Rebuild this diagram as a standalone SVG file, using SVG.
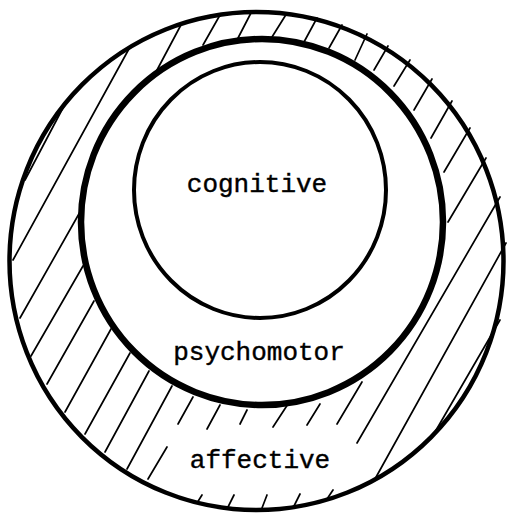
<svg xmlns="http://www.w3.org/2000/svg" width="510" height="515" viewBox="0 0 510 515">
<style>
.ring{fill:none;stroke:#000}
.hatch line{stroke:#000;stroke-width:1.7;stroke-linecap:round}
.lbl{font-family:"Liberation Mono","Courier New",monospace;font-size:26px;fill:#000;stroke:#000;stroke-width:0.4;text-anchor:middle}
</style>
<rect width="510" height="515" fill="#fff"/>
<g id="hatching" class="hatch">
<line x1="130" y1="47" x2="13" y2="260"/>
<line x1="182" y1="23" x2="157" y2="70"/>
<line x1="220" y1="15" x2="203" y2="45"/>
<line x1="252" y1="11" x2="238" y2="38"/>
<line x1="287" y1="13" x2="272" y2="37"/>
<line x1="317" y1="18" x2="304" y2="42"/>
<line x1="342" y1="25" x2="329" y2="48"/>
<line x1="367" y1="34" x2="355" y2="60"/>
<line x1="388" y1="46" x2="374" y2="70"/>
<line x1="410" y1="60" x2="394" y2="86"/>
<line x1="432" y1="79" x2="414" y2="110"/>
<line x1="452" y1="101" x2="431" y2="138"/>
<line x1="470" y1="128" x2="444" y2="172"/>
<line x1="486" y1="158" x2="448" y2="222"/>
<line x1="500" y1="197" x2="357" y2="443"/>
<line x1="506" y1="243" x2="375" y2="479"/>
<line x1="500" y1="320" x2="435" y2="432"/>
<line x1="65" y1="104" x2="25" y2="180"/>
<line x1="80" y1="212" x2="20" y2="318"/>
<line x1="83" y1="266" x2="31" y2="356"/>
<line x1="94" y1="301" x2="47" y2="384"/>
<line x1="111" y1="329" x2="65" y2="412"/>
<line x1="130" y1="353" x2="85" y2="434"/>
<line x1="149" y1="371" x2="105" y2="452"/>
<line x1="172" y1="386" x2="127" y2="469"/>
<line x1="167" y1="447" x2="148" y2="479"/>
<line x1="193" y1="397" x2="178" y2="424"/>
<line x1="220" y1="405" x2="207" y2="429"/>
<line x1="247" y1="410" x2="240" y2="424"/>
<line x1="288" y1="404" x2="273" y2="427"/>
<line x1="320" y1="404" x2="307" y2="425"/>
<line x1="362" y1="382" x2="337" y2="424"/>
<line x1="202" y1="495" x2="197" y2="503"/>
<line x1="234" y1="495" x2="228" y2="507"/>
<line x1="267" y1="495" x2="262" y2="508"/>
<line x1="300" y1="494" x2="294" y2="506"/>
<line x1="333" y1="490" x2="327" y2="499"/>
</g>
<g id="affective">
<ellipse class="ring" cx="256.5" cy="261" rx="247" ry="249" stroke-width="4.5"/>
<text class="lbl" x="260" y="468">affective</text>
</g>
<g id="psychomotor">
<ellipse class="ring" cx="262" cy="222" rx="181" ry="183" stroke-width="6.5"/>
<text class="lbl" x="259" y="360">psychomotor</text>
</g>
<g id="cognitive">
<ellipse class="ring" cx="260" cy="190" rx="126" ry="128" stroke-width="4"/>
<text class="lbl" x="257" y="192">cognitive</text>
</g>
</svg>
